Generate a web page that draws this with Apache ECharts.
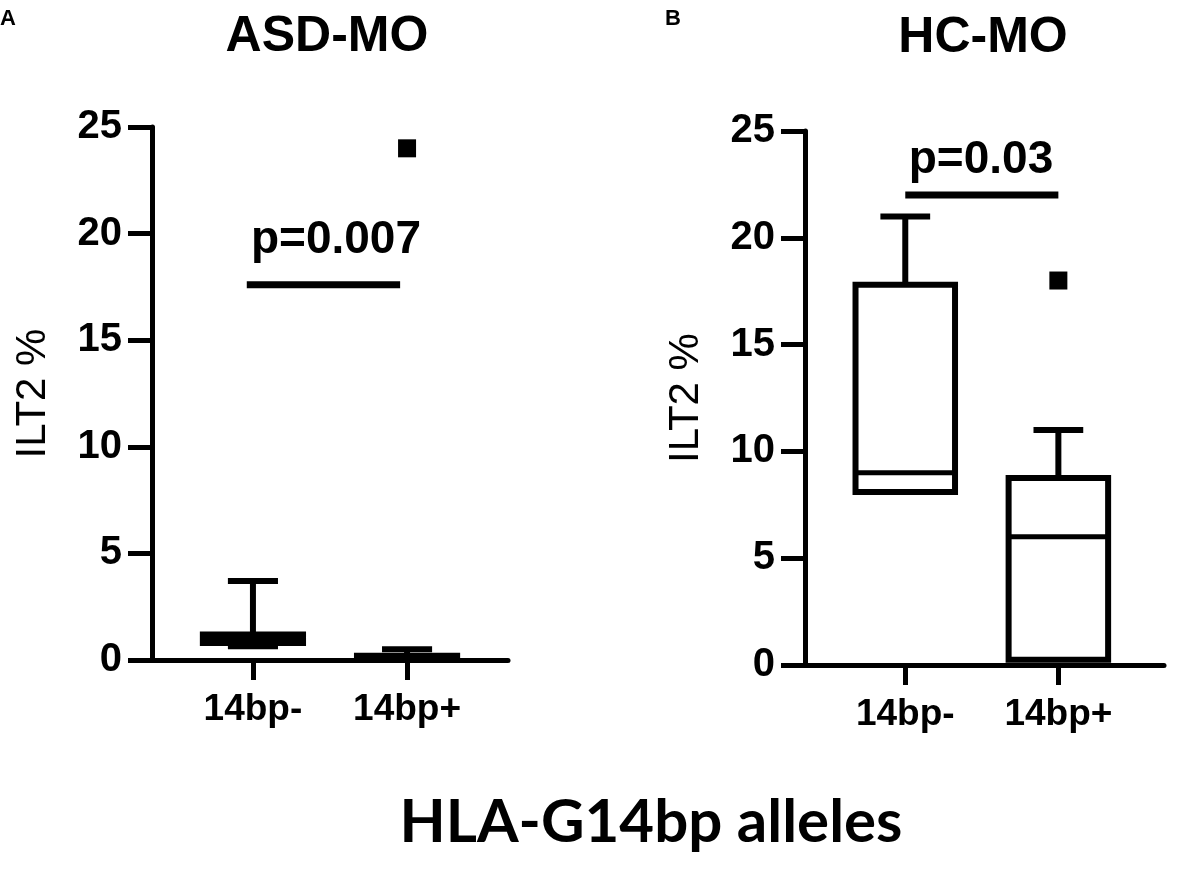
<!DOCTYPE html>
<html>
<head>
<meta charset="utf-8">
<script src="https://cdn.jsdelivr.net/npm/echarts@6/dist/echarts.min.js"></script>
<style>
  html, body { margin: 0; padding: 0; background: #fff; }
  #main { width: 1181px; height: 875px; }
</style>
</head>
<body>
<div id="main"></div>
<script>
// categories and values
const categories = ['14bp-', '14bp+'];
const yTicks = [0, 5, 10, 15, 20, 25];

// box stats: [x, min, q1, median, q3, max]
const asdBoxes = [
  [1, 0.65, 0.8, 1.0, 1.2, 3.7],
  [2, 0.0, 0.05, 0.1, 0.2, 0.5]
];
const hcBoxes = [
  [1, 8.1, 8.1, 9.0, 17.8, 21.0],
  [2, 0.25, 0.25, 6.0, 8.75, 11.0]
];

// outliers [x, y]
const asdOutliers = [[2, 24]];
const hcOutliers = [[2, 18]];

// significance bars
const asdSig = [[0.96, 17.6], [1.955, 17.6]];
const hcSig = [[1, 22], [2, 22]];
const asdP = 'p=0.007';
const hcP = 'p=0.03';

const FONT = '"Liberation Sans", Arial, sans-serif';
const BOX_W = 0.65;
const LW = 6;

var chartDom = document.getElementById('main');
var myChart = echarts.init(chartDom, null, { renderer: 'canvas' });

function renderBox(params, api) {
  const x = api.value(0);
  const lo = api.value(1), q1 = api.value(2), med = api.value(3), q3 = api.value(4), hi = api.value(5);
  const half = api.size([BOX_W, 0])[0] / 2;
  const capHalf = half / 2;
  const c = api.coord([x, 0])[0];
  const yLo = api.coord([x, lo])[1];
  const yQ1 = api.coord([x, q1])[1];
  const yMed = api.coord([x, med])[1];
  const yQ3 = api.coord([x, q3])[1];
  const yHi = api.coord([x, hi])[1];
  const st = { stroke: '#000', lineWidth: LW, fill: null };
  const children = [
    { type: 'line', shape: { x1: c, y1: yQ3, x2: c, y2: yHi }, style: st },
    { type: 'line', shape: { x1: c - capHalf, y1: yHi, x2: c + capHalf, y2: yHi }, style: st },
    { type: 'rect', shape: { x: c - half, y: yQ3, width: half * 2, height: Math.max(yQ1 - yQ3, 1) }, style: { stroke: '#000', lineWidth: LW, fill: '#fff' } },
    { type: 'line', shape: { x1: c - half, y1: yMed, x2: c + half, y2: yMed }, style: { stroke: '#000', lineWidth: 5 } }
  ];
  if (lo < q1) {
    children.push({ type: 'line', shape: { x1: c, y1: yQ1, x2: c, y2: yLo }, style: st });
    children.push({ type: 'line', shape: { x1: c - capHalf, y1: yLo, x2: c + capHalf, y2: yLo }, style: st });
  }
  return { type: 'group', children: children };
}

function xAxisFor(idx, max) {
  return {
    gridIndex: idx,
    type: 'value',
    min: 0.345,
    max: max,
    splitLine: { show: false },
    axisLine: { show: true, onZero: false, lineStyle: { color: '#000', width: 5 } },
    axisTick: { show: true, customValues: [1, 2], length: 20, lineStyle: { color: '#000', width: 5 } },
    axisLabel: {
      customValues: [1, 2],
      formatter: v => categories[Math.round(v) - 1],
      color: '#000', fontFamily: FONT, fontWeight: 'bold', fontSize: 37, margin: 31
    }
  };
}

function yAxisFor(idx) {
  return {
    gridIndex: idx,
    type: 'value',
    min: yTicks[0],
    max: yTicks[yTicks.length - 1],
    interval: 5,
    name: 'ILT2 %',
    nameLocation: 'middle',
    nameRotate: 90,
    nameGap: 98,
    nameTextStyle: { color: '#000', fontFamily: FONT, fontSize: 42 },
    splitLine: { show: false },
    axisLine: { show: true, lineStyle: { color: '#000', width: 5 } },
    axisTick: { show: true, length: 24, lineStyle: { color: '#000', width: 5 } },
    axisLabel: { color: '#000', fontFamily: FONT, fontWeight: 'bold', fontSize: 40, margin: 30 }
  };
}

function txt(x, y, text, size, family, align) {
  return {
    type: 'text', x: x, y: y,
    style: {
      text: text, fill: '#000', fontSize: size, fontWeight: 'bold', fontFamily: family,
      align: align || 'center', verticalAlign: 'middle'
    }
  };
}

var option = {
  backgroundColor: '#fff',
  animation: false,
  grid: [
    { left: 152, top: 127, width: 356, height: 533 },
    { left: 805, top: 131, width: 359, height: 534 }
  ],
  xAxis: [xAxisFor(0, 2.655), xAxisFor(1, 2.69)],
  yAxis: [yAxisFor(0), yAxisFor(1)],
  graphic: [
    txt(0, 19, 'A', 22, FONT, 'left'),
    txt(665, 19, 'B', 22, FONT, 'left'),
    txt(327, 37, 'ASD-MO', 50, FONT),
    txt(983, 38, 'HC-MO', 50, FONT),
    txt(336, 240, asdP, 46, FONT),
    txt(981, 160, hcP, 46, FONT),
    txt(651, 823, 'HLA-G14bp alleles', 60, 'Lato, sans-serif')
  ],
  series: [
    { type: 'custom', xAxisIndex: 0, yAxisIndex: 0, renderItem: renderBox, data: asdBoxes, encode: { x: 0, y: [1, 2, 3, 4, 5] }, clip: false },
    { type: 'custom', xAxisIndex: 1, yAxisIndex: 1, renderItem: renderBox, data: hcBoxes, encode: { x: 0, y: [1, 2, 3, 4, 5] }, clip: false },
    { type: 'scatter', xAxisIndex: 0, yAxisIndex: 0, symbol: 'rect', symbolSize: 18, itemStyle: { color: '#000', opacity: 1 }, data: asdOutliers },
    { type: 'scatter', xAxisIndex: 1, yAxisIndex: 1, symbol: 'rect', symbolSize: 18, itemStyle: { color: '#000', opacity: 1 }, data: hcOutliers },
    { type: 'line', xAxisIndex: 0, yAxisIndex: 0, symbol: 'none', lineStyle: { color: '#000', width: 7 }, data: asdSig },
    { type: 'line', xAxisIndex: 1, yAxisIndex: 1, symbol: 'none', lineStyle: { color: '#000', width: 7 }, data: hcSig }
  ]
};

option && myChart.setOption(option);
</script>
</body>
</html>
